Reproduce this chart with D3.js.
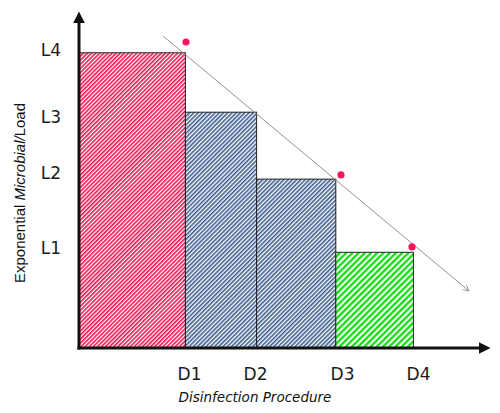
<!DOCTYPE html>
<html>
<head>
<meta charset="utf-8">
<script src="https://cdn.jsdelivr.net/npm/d3@7"></script>
<style>
  body { margin: 0; background: #fff; }
  svg { display: block; }
</style>
</head>
<body>
<div class="chart"></div>
<script>
// bar data: procedure steps (x edges) and microbial load (height)
const procedures = ["D1", "D2", "D3", "D4"];
const barStart = [0, 26.6, 44.4, 64.2];
const barEnd = [26.6, 44.4, 64.2, 83.6];
const barLoad = [9.84, 7.86, 5.63, 3.19];
const barPattern = ["red", "blue", "blue", "green"];

// tick labels
const levels = ["L1", "L2", "L3", "L4"];
const levelPos = [3.33, 5.83, 7.7, 9.93];
const procPos = [27.5, 44, 65.75, 84.75];

// red dots and trend line
const dotX = [26.75, 65.5, 83.25];
const dotY = [10.2, 5.77, 3.37];
const trendX = [21, 97.5];
const trendY = [10.4, 1.9];

const width = 500, height = 413;

const x = d3.scaleLinear().domain([0, 100]).range([79, 479]);
const y = d3.scaleLinear().domain([0, 10]).range([348, 48]);

const svg = d3.select(".chart").append("svg")
  .attr("width", width)
  .attr("height", height);

const defs = svg.append("defs");

// hatch patterns ("/" stripes)
const hatches = [
  { id: "red", color: "#f2104f", size: 2.9, line: 1.6 },
  { id: "blue", color: "#3a5b8e", size: 3, line: 1.6 },
  { id: "green", color: "#18e018", size: 4.4, line: 2.4 }
];
hatches.forEach(function(h) {
  const p = defs.append("pattern")
    .attr("id", "hatch-" + h.id)
    .attr("patternUnits", "userSpaceOnUse")
    .attr("width", h.size)
    .attr("height", h.size)
    .attr("patternTransform", "rotate(45)");
  p.append("rect").attr("width", h.size).attr("height", h.size).attr("fill", "#fff");
  p.append("rect").attr("width", h.line).attr("height", h.size).attr("fill", h.color);
});

// arrow heads
defs.append("marker")
  .attr("id", "axis-arrow")
  .attr("viewBox", "0 0 10 10")
  .attr("refX", 2).attr("refY", 5)
  .attr("markerWidth", 4).attr("markerHeight", 4)
  .attr("markerUnits", "strokeWidth")
  .attr("orient", "auto")
  .append("path")
  .attr("d", "M0,0 L10,5 L0,10 Z")
  .attr("fill", "#111");

defs.append("marker")
  .attr("id", "trend-arrow")
  .attr("viewBox", "0 0 10 10")
  .attr("refX", 9).attr("refY", 5)
  .attr("markerWidth", 7).attr("markerHeight", 7)
  .attr("markerUnits", "userSpaceOnUse")
  .attr("orient", "auto")
  .append("path")
  .attr("d", "M1,1 L9,5 L1,9")
  .attr("fill", "none")
  .attr("stroke", "#94948a")
  .attr("stroke-width", 1.3);

// bars
svg.selectAll("rect.bar")
  .data(procedures)
  .enter()
  .append("rect")
  .attr("class", "bar")
  .attr("x", (d, i) => x(barStart[i]))
  .attr("y", (d, i) => y(barLoad[i]))
  .attr("width", (d, i) => x(barEnd[i]) - x(barStart[i]))
  .attr("height", (d, i) => y(0) - y(barLoad[i]))
  .attr("fill", (d, i) => "url(#hatch-" + barPattern[i] + ")")
  .attr("stroke", "#222")
  .attr("stroke-width", 1);

// trend line
svg.append("line")
  .attr("x1", x(trendX[0])).attr("y1", y(trendY[0]))
  .attr("x2", x(trendX[1])).attr("y2", y(trendY[1]))
  .attr("stroke", "#94948a")
  .attr("stroke-width", 1)
  .attr("marker-end", "url(#trend-arrow)");

// dots
svg.selectAll("circle.dot")
  .data(dotX)
  .enter()
  .append("circle")
  .attr("class", "dot")
  .attr("cx", (d) => x(d))
  .attr("cy", (d, i) => y(dotY[i]))
  .attr("r", 3.6)
  .attr("fill", "#ff1459");

// axes (labels only, lines drawn with arrows)
const yAxis = svg.append("g")
  .attr("transform", "translate(" + x(0) + ",0)")
  .call(d3.axisLeft(y)
    .tickValues(levelPos)
    .tickFormat((d, i) => levels[i])
    .tickSize(0)
    .tickPadding(18));

const xAxis = svg.append("g")
  .attr("transform", "translate(0," + y(0) + ")")
  .call(d3.axisBottom(x)
    .tickValues(procPos)
    .tickFormat((d, i) => procedures[i])
    .tickSize(0)
    .tickPadding(20));

[yAxis, xAxis].forEach(function(a) {
  a.select(".domain").remove();
  a.selectAll("text")
    .attr("font-family", "'DejaVu Sans', Verdana, sans-serif")
    .attr("font-size", 17)
    .attr("fill", "#1c1c1c");
});

svg.append("line")
  .attr("x1", x(0)).attr("y1", y(0) + 1.5)
  .attr("x2", x(0)).attr("y2", 21)
  .attr("stroke", "#111")
  .attr("stroke-width", 3)
  .attr("marker-end", "url(#axis-arrow)");

svg.append("line")
  .attr("x1", x(0) - 1.5).attr("y1", y(0))
  .attr("x2", 481).attr("y2", y(0))
  .attr("stroke", "#111")
  .attr("stroke-width", 3)
  .attr("marker-end", "url(#axis-arrow)");

// axis titles
const yTitle = svg.append("text")
  .attr("transform", "translate(18.5,193) rotate(-90)")
  .attr("text-anchor", "middle")
  .attr("dominant-baseline", "central")
  .attr("font-family", "'Liberation Sans', Arial, sans-serif")
  .attr("font-size", 15)
  .attr("fill", "#111");
yTitle.append("tspan").text("Exponential ");
yTitle.append("tspan").attr("font-style", "italic").text("Microbial/");
yTitle.append("tspan").text("Load");

svg.append("text")
  .attr("x", 255)
  .attr("y", 402)
  .attr("text-anchor", "middle")
  .attr("font-family", "'DejaVu Sans', Verdana, sans-serif")
  .attr("font-style", "italic")
  .attr("font-size", 13.5)
  .attr("fill", "#111")
  .text("Disinfection Procedure");
</script>
</body>
</html>
